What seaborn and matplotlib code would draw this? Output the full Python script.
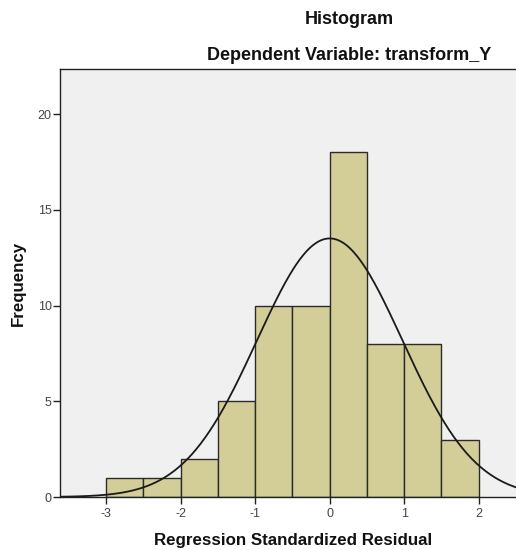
import numpy as np
import matplotlib
matplotlib.use("Agg")
import matplotlib.pyplot as plt
import seaborn as sns

# residual histogram (SPSS style), bins of 0.5
bin_edges = [-3.0, -2.5, -2.0, -1.5, -1.0, -0.5, 0.0, 0.5, 1.0, 1.5, 2.0]
counts = [1, 1, 2, 5, 10, 10, 18, 8, 8, 3]
resid_mean = 0.0
resid_sd = 0.975
n_obs = sum(counts)

sns.set_style("white")
plt.rcParams['font.family'] = ['Liberation Sans', 'DejaVu Sans']

fig = plt.figure(figsize=(5.16, 5.5), dpi=100)
ax = fig.add_axes([60 / 516, 53 / 550, 1 - 60 / 516, 428 / 550])
ax.set_facecolor('#f0f0f0')

centers = [(a + b) / 2 for a, b in zip(bin_edges[:-1], bin_edges[1:])]
sns.histplot(x=centers, weights=counts, bins=bin_edges, ax=ax,
             color='#d3ce97', alpha=1, edgecolor='#2b2b2b', linewidth=1.0)

xlim = (-3.62, 2.5)
xs = np.linspace(xlim[0], xlim[1], 400)
width = bin_edges[1] - bin_edges[0]
ys = n_obs * width / (resid_sd * np.sqrt(2 * np.pi)) * np.exp(-0.5 * ((xs - resid_mean) / resid_sd) ** 2)
sns.lineplot(x=xs, y=ys, ax=ax, color='#1a1a1a', linewidth=1.3)

ax.set_xlim(xlim)
ax.set_ylim(0, 22.35)
ax.set_xticks([-3, -2, -1, 0, 1, 2])
ax.set_xticklabels(['-3', '-2', '-1', '0', '1', '2'])
ax.set_yticks([0, 5, 10, 15, 20])
ax.tick_params(axis='both', direction='out', length=5, width=1, colors='#222222',
               labelsize=9, labelcolor='#444444', pad=1, bottom=True, left=True)
ax.tick_params(axis='x', pad=3)
for side in ['left', 'bottom', 'top']:
    ax.spines[side].set_color('#222222')
    ax.spines[side].set_linewidth(1)
ax.spines['right'].set_visible(False)
ax.set_xlabel('')
ax.set_ylabel('')

fig.text(349 / 516, 1 - 20 / 550, 'Histogram', ha='center', va='center',
         fontsize=13, fontweight='bold', color='#111111')
fig.text(349 / 516, 1 - 55 / 550, 'Dependent Variable: transform_Y', ha='center', va='center',
         fontsize=13, fontweight='bold', color='#111111')
fig.text(293 / 516, 1 - 540 / 550, 'Regression Standardized Residual', ha='center', va='center',
         fontsize=12.2, fontweight='bold', color='#111111')
fig.text(18 / 516, 1 - 283 / 550, 'Frequency', ha='center', va='center', rotation=90,
         fontsize=12.2, fontweight='bold', color='#111111')

fig.savefig('out.png', dpi=100)
